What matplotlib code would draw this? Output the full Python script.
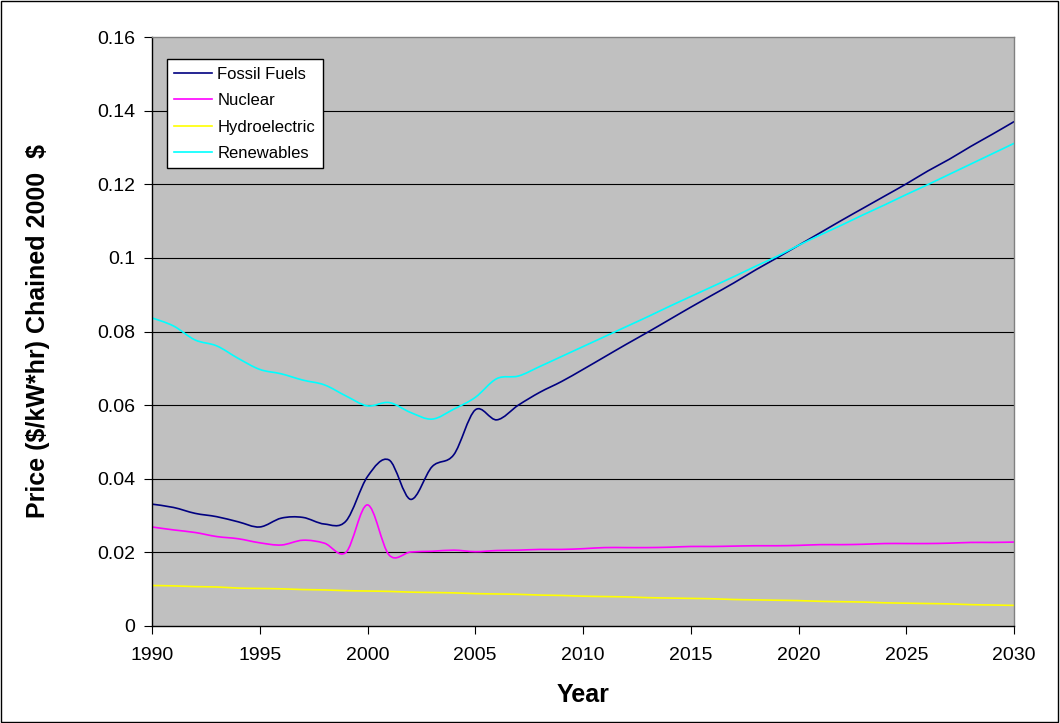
import numpy as np
import matplotlib
matplotlib.use("Agg")
import matplotlib.pyplot as plt
from matplotlib.path import Path
from matplotlib.patches import PathPatch, Rectangle
from matplotlib.lines import Line2D

plt.rcParams['font.family'] = ['Liberation Sans', 'DejaVu Sans']

years = list(range(1990, 2031))

# electricity price by source, $/kW*hr in chained 2000 dollars
fossil = [0.0331, 0.0322, 0.0306, 0.0297, 0.0283, 0.0269, 0.0293, 0.0295, 0.0277, 0.0285,
          0.0406, 0.0451, 0.0344, 0.0433, 0.0465, 0.0587, 0.0560, 0.0600, 0.0635, 0.0664,
          0.0697, 0.0731, 0.0765, 0.0798, 0.0832, 0.0866, 0.0899, 0.0932, 0.0967, 0.1000,
          0.1034, 0.1068, 0.1102, 0.1135, 0.1168, 0.1201, 0.1236, 0.1268, 0.1303, 0.1336,
          0.1370]
nuclear = [0.0269, 0.0261, 0.0254, 0.0243, 0.0237, 0.0226, 0.0220, 0.0233, 0.0225, 0.0200,
           0.0329, 0.0193, 0.0201, 0.0203, 0.0206, 0.0202, 0.0205, 0.0206, 0.0208, 0.0208,
           0.0210, 0.0213, 0.0213, 0.0213, 0.0214, 0.0216, 0.0216, 0.0217, 0.0218, 0.0218,
           0.0219, 0.0221, 0.0221, 0.0222, 0.0224, 0.0224, 0.0224, 0.0225, 0.0227, 0.0227,
           0.0228]
hydro = [0.0110, 0.0109, 0.0107, 0.0106, 0.0103, 0.0102, 0.0101, 0.0099, 0.0098, 0.0096,
         0.0095, 0.0094, 0.0092, 0.0091, 0.0090, 0.0088, 0.0087, 0.0086, 0.0084, 0.0083,
         0.0081, 0.0080, 0.0079, 0.0077, 0.0076, 0.0075, 0.0074, 0.0072, 0.0071, 0.0070,
         0.0069, 0.0067, 0.0066, 0.0065, 0.0063, 0.0062, 0.0061, 0.0060, 0.0058, 0.0057,
         0.0056]
renewables = [0.0837, 0.0815, 0.0777, 0.0761, 0.0727, 0.0697, 0.0685, 0.0668, 0.0655, 0.0625,
              0.0598, 0.0607, 0.0580, 0.0562, 0.0589, 0.0621, 0.0672, 0.0679, 0.0705, 0.0732,
              0.0759, 0.0786, 0.0813, 0.0840, 0.0868, 0.0895, 0.0922, 0.0949, 0.0977, 0.1004,
              0.1034, 0.1062, 0.1089, 0.1117, 0.1144, 0.1172, 0.1199, 0.1227, 0.1255, 0.1283,
              0.1311]

series = [("Fossil Fuels", fossil, "#000080"),
          ("Nuclear", nuclear, "#FF00FF"),
          ("Hydroelectric", hydro, "#FFFF00"),
          ("Renewables", renewables, "#00FFFF")]


def smooth_path(x, y):
    """Bezier path through every point (Catmull-Rom style tangents)."""
    pts = np.column_stack([x, y]).astype(float)
    n = len(pts)
    verts = [pts[0]]
    codes = [Path.MOVETO]
    for i in range(n - 1):
        p0 = pts[max(i - 1, 0)]
        p1 = pts[i]
        p2 = pts[i + 1]
        p3 = pts[min(i + 2, n - 1)]
        c1 = p1 + (p2 - p0) / 6.0
        c2 = p2 - (p3 - p1) / 6.0
        verts += [c1, c2, p2]
        codes += [Path.CURVE4] * 3
    return Path(verts, codes)


fig = plt.figure(figsize=(10.6, 7.23), dpi=100)
ax = fig.add_axes([152 / 1060, 1 - 626 / 723, 862 / 1060, 589 / 723])
ax.set_facecolor("#C0C0C0")

for label, vals, color in series:
    ax.add_patch(PathPatch(smooth_path(years, vals), fill=False,
                           edgecolor=color, lw=1.2, capstyle='round'))

ax.set_xlim(1990, 2030)
ax.set_ylim(0, 0.16)
ax.set_xticks(range(1990, 2031, 5))
ax.set_yticks(np.arange(0, 0.161, 0.02))
ax.set_yticklabels(["0", "0.02", "0.04", "0.06", "0.08", "0.1", "0.12", "0.14", "0.16"])
ax.tick_params(axis='both', direction='out', length=6, width=0.8, labelsize=14,
               colors='black', pad=6)
ax.tick_params(axis='x', pad=9)

for v in np.arange(0.02, 0.15, 0.02):
    ax.axhline(v, color='black', lw=0.8, zorder=0.5)

ax.spines['left'].set_color('black')
ax.spines['bottom'].set_color('black')
ax.spines['top'].set_color('#808080')
ax.spines['right'].set_color('#808080')
for s in ax.spines.values():
    s.set_linewidth(1.0)

ax.set_xlabel("Year", fontsize=18, fontweight='bold', labelpad=14)
ax.set_ylabel(r"Price (\$/kW*hr) Chained 2000  \$", fontsize=18, fontweight='bold', labelpad=34)

handles = [Line2D([], [], color=c, lw=1.2) for _, _, c in series]
leg = ax.legend(handles, [s[0] for s in series], loc='upper left',
                bbox_to_anchor=(0.017, 0.962), borderaxespad=0, fontsize=12,
                frameon=True, fancybox=False, handlelength=2.3, handletextpad=0.3,
                labelspacing=0.68, borderpad=0.45)
leg.get_frame().set_edgecolor('black')
leg.get_frame().set_linewidth(1.0)
leg.get_frame().set_alpha(1)

# outer chart border
fig.patches.append(Rectangle((0.001, 0.002), 0.997, 0.996, transform=fig.transFigure,
                             fill=False, edgecolor='black', lw=1.0))

fig.savefig("out.png", dpi=100, facecolor='white')
